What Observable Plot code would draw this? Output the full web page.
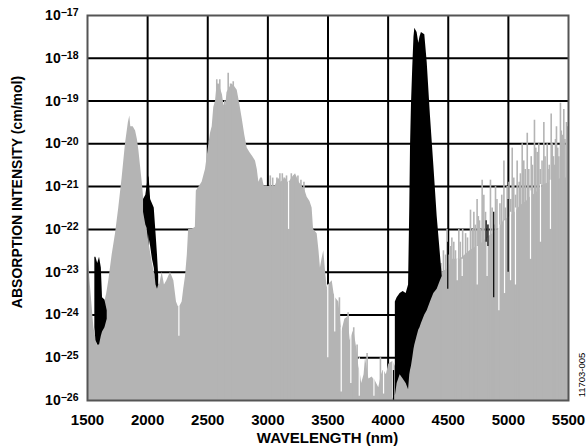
<!DOCTYPE html>
<html><head><meta charset="utf-8">
<script src="https://cdn.jsdelivr.net/npm/d3@7"></script>
<script src="https://cdn.jsdelivr.net/npm/@observablehq/plot@0.6"></script>
<style>
html,body{margin:0;padding:0;background:#fff;}
#chart{width:587px;height:448px;}
</style></head><body><div id="chart"></div>
<script>
// Axis ticks
const xTicks = [1500, 2000, 2500, 3000, 3500, 4000, 4500, 5000, 5500];
const yExps = [-26, -25, -24, -23, -22, -21, -20, -19, -18, -17];

// Gray (H2O) spectrum envelope: wavelength (nm) and log10 intensity
const grayWl = [1500,1525,1553,1580,1600,1620,1636,1660,1677,1705,1733,1760,1788,1816,1840,1852,1860,1880,1900,1915,1927,1955,1982,2010,2040,2070,2100,2121,2140,2160,2190,2218,2240,2255,2268,2287,2300,2315,2330,2341,2370,2397,2405,2430,2453,2481,2510,2523,2537,2550,2565,2578,2595,2610,2622,2635,2650,2660,2680,2700,2720,2745,2765,2786,2808,2828,2850,2875,2897,2912,2925,2940,2955,2970,3000,3030,3060,3088,3110,3147,3166,3178,3200,3230,3260,3285,3310,3327,3350,3368,3380,3410,3425,3437,3450,3465,3480,3493,3503,3535,3550,3562,3590,3614,3640,3665,3685,3695,3715,3740,3756,3765,3780,3800,3812,3840,3868,3878,3886,3922,3945,3958,3966,3985,4005,4030,4043,4060,4150,4200,4255,4283,4310,4338,4365,4394,4420,4450,4480,4505,4533,4560,4600,4640,4680,4738,4790,4820,4870,4918,4960,5015,5056,5100,5150,5181,5230,5264,5300,5347,5400,5450,5500];
const grayLog = [-22.4,-23.35,-24.3,-24.7,-24.6,-24.2,-23.8,-23.5,-23.2,-22.6,-22.1,-21.5,-20.8,-20.0,-19.5,-19.35,-19.6,-19.6,-19.7,-19.9,-20.15,-20.9,-21.7,-22.3,-22.8,-23.2,-23.3,-23.0,-23.3,-23.2,-23.0,-23.2,-23.7,-23.8,-23.8,-23.7,-23.4,-23.1,-22.6,-22.0,-22.0,-21.95,-21.1,-21.0,-20.9,-20.6,-20.0,-19.75,-19.6,-19.15,-19.0,-18.6,-18.6,-18.75,-18.85,-19.1,-19.1,-18.8,-18.7,-18.6,-18.65,-18.75,-19.05,-19.4,-19.8,-20.1,-20.2,-20.3,-20.4,-20.6,-20.9,-20.8,-20.8,-21.0,-21.0,-21.0,-21.0,-20.8,-20.9,-20.8,-20.9,-20.9,-20.8,-20.7,-20.9,-21.0,-21.1,-21.25,-21.35,-21.5,-22.0,-22.1,-22.5,-22.9,-22.7,-22.5,-23.0,-23.35,-23.3,-23.2,-23.5,-23.6,-23.7,-24.4,-24.1,-24.05,-24.6,-24.5,-24.35,-24.8,-25.2,-25.3,-25.6,-25.4,-25.0,-25.5,-25.45,-25.5,-25.5,-25.7,-25.4,-25.3,-25.3,-25.4,-25.15,-25.1,-25.1,-25.2,-25.0,-24.8,-24.2,-23.85,-23.6,-23.4,-23.3,-23.25,-23.1,-23.0,-22.95,-22.9,-22.7,-22.7,-22.7,-22.6,-22.5,-22.4,-22.3,-22.2,-22.1,-22.0,-21.8,-21.7,-21.6,-21.45,-21.35,-21.25,-21.15,-21.05,-20.95,-20.9,-20.85,-20.8,-20.8];

// Narrow gray lines standing above the envelope
const spikeWl = [2575,2600,2642,2670,2690,2712,3020,3040,3075,3100,3120,3135,3155,3195,3215,3250,3275,3300,3595,3667,3714,3742,3825,3936,4440,4460,4478,4490,4500,4520,4530,4546,4560,4588,4600,4620,4644,4660,4685,4700,4713,4725,4740,4750,4760,4770,4782,4796,4810,4830,4851,4865,4880,4893,4905,4930,4945,4963,4975,4990,5005,5020,5032,5045,5060,5073,5090,5100,5115,5128,5140,5157,5170,5190,5200,5217,5228,5240,5253,5265,5280,5295,5305,5323,5330,5340,5356,5365,5375,5383,5392,5400,5410,5420,5433,5440,5448,5461,5470,5483,5492];
const spikeLog = [-18.5,-18.5,-19.0,-18.35,-18.6,-18.55,-20.75,-20.8,-20.8,-20.7,-20.7,-20.8,-20.75,-20.7,-20.75,-20.75,-20.85,-20.9,-23.6,-23.95,-24.3,-24.7,-24.9,-25.0,-22.8,-22.5,-22.6,-22.0,-22.6,-22.4,-22.2,-22.3,-22.5,-22.0,-22.3,-22.0,-22.1,-22.2,-21.55,-22.0,-21.6,-21.9,-21.3,-21.7,-21.8,-22.0,-20.85,-21.2,-21.6,-21.9,-20.85,-21.5,-21.9,-21.0,-21.3,-21.4,-21.2,-20.4,-21.5,-21.0,-20.9,-21.3,-20.1,-20.8,-21.2,-20.4,-20.9,-20.7,-20.0,-20.4,-20.6,-19.75,-20.6,-20.3,-20.5,-19.45,-20.1,-20.2,-20.0,-20.6,-20.4,-19.5,-20.3,-20.0,-20.6,-20.5,-19.3,-20.0,-20.3,-20.5,-19.9,-19.6,-20.1,-20.3,-19.05,-19.7,-19.8,-19.2,-19.9,-19.5,-19.6];

// Gaps (absorption minima) cutting into the gray body
const notchWl = [2260,3172,3498,3556,3610,3690,3760,3882,3962,4040,4575,4616,4741,4823,4921,4968,5018,5059,5184,5267,5350];
const notchLo = [-24.5,-22.0,-25.0,-24.4,-25.8,-25.6,-25.9,-25.9,-25.85,-25.95,-23.2,-23.1,-23.3,-23.1,-23.9,-23.5,-23.2,-23.3,-22.7,-22.3,-22.0];
const notchHi = [-23.8,-20.9,-23.3,-23.4,-24.3,-24.4,-25.0,-25.4,-25.3,-25.1,-22.7,-22.7,-22.4,-22.2,-21.9,-21.8,-21.6,-21.5,-21.1,-20.95,-20.85];

// Black (CO2) bands: lower and upper log10 intensity
const co2Band = ["A","A","A","A","A","A","A","A","B","B","B","B","B","B","B","B","B","B","C","C","C","C","C","C","C","C","C","C","C","C","C","C","C","C","C","C","C","C","C","C","C"];
const co2Wl = [1561,1570,1585,1600,1615,1625,1645,1664, 1966,1985,2000,2012,2025,2040,2055,2070,2082,2092, 4060,4075,4100,4125,4150,4170,4180,4186,4194,4205,4215,4222,4241,4255,4265,4277,4305,4325,4352,4380,4408,4435,4450];
const co2Lo = [-24.3,-24.6,-24.7,-24.7,-24.5,-24.4,-24.3,-24.1, -21.6,-21.9,-22.0,-22.2,-22.4,-22.7,-22.9,-23.3,-23.4,-23.3, -25.9,-25.6,-25.4,-25.5,-25.6,-25.75,-25.4,-25.3,-25.2,-25.0,-24.8,-24.7,-24.5,-24.35,-24.3,-24.2,-24.0,-23.9,-23.7,-23.5,-23.4,-23.2,-23.1];
const co2Hi = [-22.65,-22.65,-22.8,-22.65,-22.9,-23.6,-23.65,-23.9, -21.3,-21.2,-20.9,-20.75,-21.3,-21.4,-21.5,-22.1,-22.6,-23.1, -23.7,-23.6,-23.5,-23.45,-23.5,-23.3,-21.5,-20.1,-19.1,-18.2,-17.5,-17.3,-17.4,-17.65,-17.5,-17.4,-17.45,-18.1,-19.35,-20.5,-21.7,-22.6,-23.1];

// Isolated black CO2 lines
const co2LineWl = [4045, 4496, 4815, 4830, 4878, 4998];
const co2LineLo = [-26, -23.4, -22.3, -22.4, -23.6, -23.0];
const co2LineHi = [-25.3, -22.3, -21.8, -21.9, -21.6, -21.3];

const p = (e) => Math.pow(10, e);
const gray = grayWl.map((w, i) => ({wl: w, v: p(grayLog[i])}));
const spikes = spikeWl.map((w, i) => ({wl: w, v: p(spikeLog[i])}));
const notches = notchWl.map((w, i) => ({wl: w, lo: p(notchLo[i]), hi: p(notchHi[i])}));
const co2 = co2Wl.map((w, i) => ({band: co2Band[i], wl: w, lo: p(co2Lo[i]), hi: p(co2Hi[i])}));
const co2Lines = co2LineWl.map((w, i) => ({wl: w, lo: p(co2LineLo[i]), hi: p(co2LineHi[i])}));
const yTickVals = yExps.map(p);
const base = p(-26);

const GRAY = "#b4b4b4";
const chart = Plot.plot({
  width: 587, height: 448,
  marginLeft: 87, marginRight: 19, marginTop: 15, marginBottom: 48,
  style: {fontFamily: "'Liberation Sans', Arial, sans-serif", background: "#fff", color: "#000"},
  x: {domain: [1500, 5500], label: null},
  y: {type: "log", domain: [p(-26), p(-17)], label: null},
  marks: [
    Plot.ruleX(xTicks.slice(1, -1), {stroke: "#000", strokeWidth: 2}),
    Plot.ruleY(yTickVals.slice(1, -1), {stroke: "#000", strokeWidth: 2}),
    Plot.areaY(gray, {x: "wl", y1: () => base, y2: "v", fill: GRAY, clip: true}),
    Plot.ruleX(spikes, {x: "wl", y1: () => base, y2: "v", stroke: GRAY, strokeWidth: 1.6, clip: true}),
    Plot.ruleX(notches, {x: "wl", y1: "lo", y2: "hi", stroke: "#fff", strokeWidth: 1.2, clip: true}),
    Plot.areaY(co2, {x: "wl", y1: "lo", y2: "hi", z: "band", fill: "#000", clip: true}),
    Plot.ruleX(co2Lines, {x: "wl", y1: "lo", y2: "hi", stroke: "#000", strokeWidth: 1.2, clip: true}),
    Plot.frame({stroke: "#555", strokeWidth: 2}),
    Plot.axisX({ticks: xTicks, tickSize: 0, tickPadding: 14, fontSize: 15, fontWeight: "bold", tickFormat: d => String(d), label: null}),
    Plot.axisY({ticks: yTickVals, tickSize: 0, tickPadding: 9, fontSize: 14, fontWeight: "bold", tickFormat: d => String(Math.round(Math.log10(d))), label: null})
  ]
});

const svg = d3.select(chart);
svg.selectAll('g[aria-label="y-axis tick label"] text').each(function () {
  const e = Math.abs(+this.textContent);
  const t = d3.select(this);
  t.text(null);
  t.append("tspan").text("10");
  t.append("tspan").attr("font-size", 10.5).attr("dy", -3.5).text("\u2212" + e);
});

svg.append("text")
  .attr("transform", "translate(17,192) rotate(-90)")
  .attr("text-anchor", "middle").attr("dy", "0.35em")
  .attr("font-size", 14).attr("font-weight", "bold").attr("fill", "#000")
  .text("ABSORPTION INTENSITY (cm/mol)");
svg.append("text")
  .attr("x", 327.5).attr("y", 443)
  .attr("text-anchor", "middle")
  .attr("font-size", 15).attr("font-weight", "bold").attr("fill", "#000")
  .text("WAVELENGTH (nm)");
svg.append("text")
  .attr("transform", "translate(582,375) rotate(-90)")
  .attr("text-anchor", "middle").attr("dy", "0.35em")
  .attr("font-size", 9.5).attr("fill", "#000")
  .text("11703-005");

document.getElementById("chart").appendChild(chart);
</script></body></html>
